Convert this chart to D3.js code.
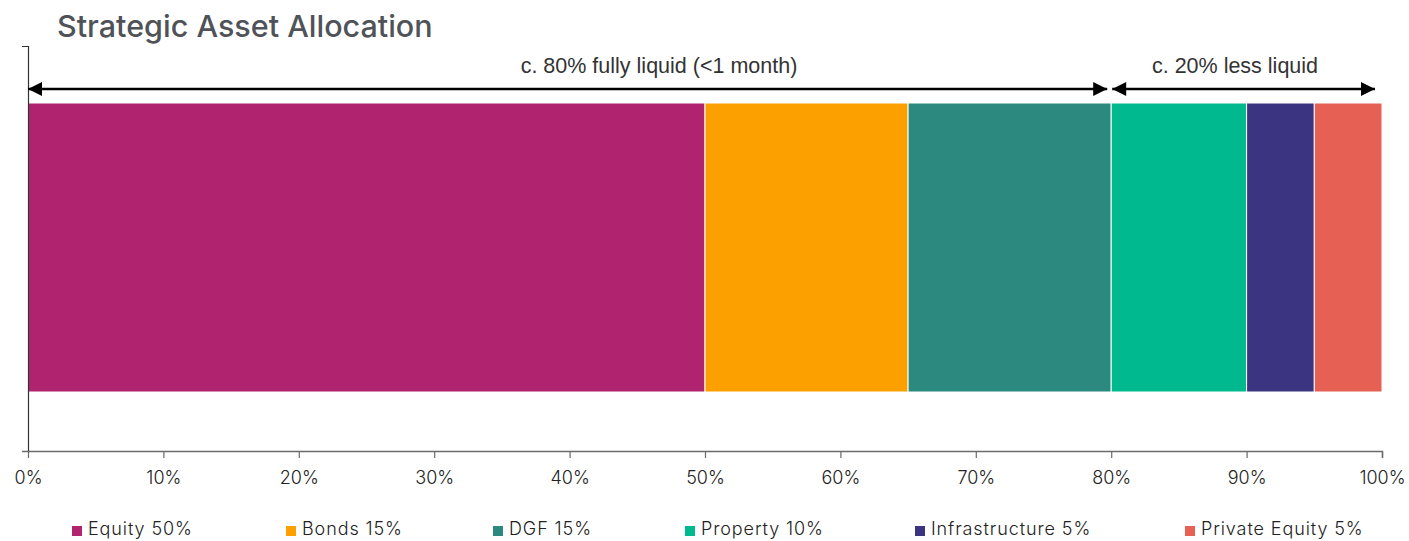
<!DOCTYPE html>
<html>
<head>
<meta charset="utf-8">
<script src="https://cdn.jsdelivr.net/npm/d3@7"></script>
<style>
  html, body { margin: 0; padding: 0; background: #fff; }
  svg { display: block; }
</style>
</head>
<body>
<svg id="chart" width="1409" height="541"></svg>
<script>
// Allocation data
const categories = ["Equity", "Bonds", "DGF", "Property", "Infrastructure", "Private Equity"];
const weights = [50, 15, 15, 10, 5, 5];
const colors = ["#b0246f", "#fca000", "#2c8980", "#00b98e", "#3b3480", "#e66153"];
const tickValues = [0, 10, 20, 30, 40, 50, 60, 70, 80, 90, 100];
// Liquidity bands shown as arrows above the bar
const bandLabels = ["c. 80% fully liquid (<1 month)", "c. 20% less liquid"];
const bandRanges = [[0, 80], [80, 100]];
const legendX = [71, 285, 492, 684, 914, 1184];

const svg = d3.select("#chart");
const x = d3.scaleLinear().domain([0, 100]).range([28, 1382]);

// Title
svg.append("text")
  .attr("x", 57).attr("y", 37)
  .attr("font-family", "Inter, 'Noto Sans', sans-serif")
  .attr("font-size", 30.5).attr("font-weight", 500)
  .attr("fill", "#4f5358")
  .text("Strategic Asset Allocation");

// Stacked segments
let cum = 0;
const segs = weights.map((w, i) => { const s = { cat: categories[i], x0: cum, x1: cum + w, c: colors[i] }; cum += w; return s; });
const barTop = 103, barBottom = 392;
svg.append("g").selectAll("rect").data(segs).join("rect")
  .attr("x", d => x(d.x0))
  .attr("width", d => x(d.x1) - x(d.x0))
  .attr("y", barTop).attr("height", barBottom - barTop)
  .attr("fill", d => d.c)
  .attr("stroke", "#fff").attr("stroke-width", 1);

// Axes
const xAxis = d3.axisBottom(x).tickValues(tickValues).tickFormat(d => d + "%").tickSize(7).tickSizeOuter(7);
const gx = svg.append("g").attr("transform", "translate(0,451)").call(xAxis);
gx.select(".domain").attr("stroke", "#6b6b6b").attr("stroke-width", 1.5)
  .attr("d", "M22,0.5H1382.5V7");
gx.selectAll(".tick line").attr("stroke", "#6b6b6b").attr("stroke-width", 1.2);
gx.selectAll(".tick text")
  .attr("font-family", "Inter, 'Noto Sans', sans-serif")
  .attr("font-size", 18).attr("font-weight", 300)
  .attr("fill", "#222").attr("dy", "1.25em");

svg.append("path")
  .attr("d", "M22,46.5H28.5V451")
  .attr("fill", "none").attr("stroke", "#333").attr("stroke-width", 1.2);

// Liquidity arrows
const defs = svg.append("defs");
defs.append("marker").attr("id", "head")
  .attr("viewBox", "0 0 10 10").attr("refX", 10).attr("refY", 5)
  .attr("markerWidth", 16).attr("markerHeight", 14).attr("markerUnits", "userSpaceOnUse")
  .attr("orient", "auto-start-reverse")
  .append("path").attr("d", "M0,0L10,5L0,10Z").attr("fill", "#000");

const arrowY = 89;
const arrows = [
  { x0: x(bandRanges[0][0]), x1: x(bandRanges[0][1]) - 4, label: bandLabels[0], cx: 659 },
  { x0: x(bandRanges[1][0]) + 1, x1: x(bandRanges[1][1]) - 7, label: bandLabels[1], cx: 1235 }
];
svg.append("g").selectAll("line").data(arrows).join("line")
  .attr("x1", d => d.x0).attr("x2", d => d.x1)
  .attr("y1", arrowY).attr("y2", arrowY)
  .attr("stroke", "#000").attr("stroke-width", 2.5)
  .attr("marker-start", "url(#head)").attr("marker-end", "url(#head)");
svg.append("g").selectAll("text").data(arrows).join("text")
  .attr("x", d => d.cx).attr("y", 73)
  .attr("text-anchor", "middle")
  .attr("font-family", "'Liberation Sans', Arial, sans-serif")
  .attr("font-size", 21.5).attr("fill", "#333")
  .text(d => d.label);

// Legend
const lg = svg.append("g").selectAll("g").data(segs).join("g")
  .attr("transform", (d, i) => `translate(${legendX[i]},0)`);
lg.append("rect").attr("x", 1).attr("y", 526).attr("width", 10).attr("height", 10).attr("fill", d => d.c);
lg.append("text").attr("x", 17).attr("y", 535)
  .attr("font-family", "Inter, 'Noto Sans', sans-serif")
  .attr("font-size", 18).attr("font-weight", 300).attr("letter-spacing", 0.9).attr("fill", "#222")
  .text((d, i) => `${d.cat} ${weights[i]}%`);
</script>
</body>
</html>
